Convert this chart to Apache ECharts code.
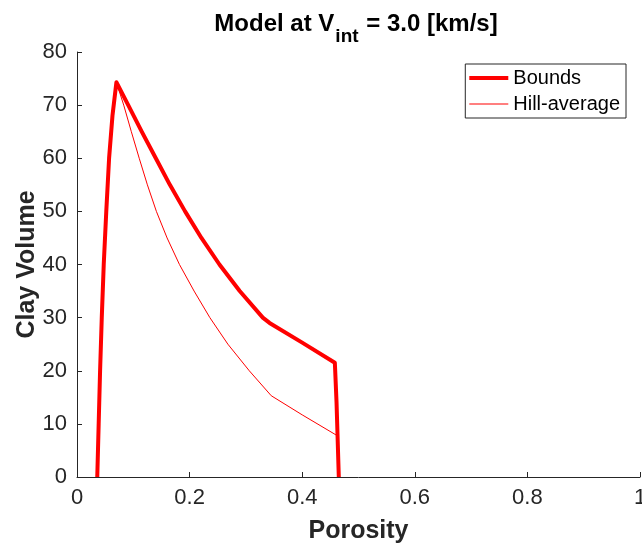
<!DOCTYPE html>
<html>
<head>
<meta charset="utf-8">
<script src="https://cdn.jsdelivr.net/npm/echarts@6/dist/echarts.min.js"></script>
<style>html,body{margin:0;padding:0;background:#fff}#c{width:642px;height:544px}</style>
</head>
<body>
<div id="c"></div>
<script>
const boundsPorosity = [0.036, 0.0385, 0.041, 0.044, 0.0475, 0.052, 0.057, 0.063, 0.070, 0.091, 0.115, 0.140, 0.165, 0.192, 0.221, 0.253, 0.289, 0.330, 0.342, 0.400, 0.458, 0.461, 0.463, 0.465];
const boundsClay     = [0.0, 10.0, 20.0, 30.0, 40.0, 50.0, 60.0, 68.0, 74.3, 70.0, 65.0, 60.0, 55.0, 50.0, 45.0, 40.0, 35.0, 30.0, 29.0, 25.3, 21.5, 14.0, 7.0, 0.0];
const hillPorosity = [0.070, 0.083, 0.0965, 0.1105, 0.125, 0.141, 0.160, 0.182, 0.208, 0.236, 0.268, 0.306, 0.345, 0.400, 0.462];
const hillClay     = [74.3, 70.0, 65.0, 60.0, 55.0, 50.0, 45.0, 40.0, 35.0, 30.0, 25.0, 20.0, 15.3, 11.7, 7.8];
const xTicks = [0, 0.2, 0.4, 0.6, 0.8, 1];
const yTicks = [0, 10, 20, 30, 40, 50, 60, 70, 80];

const toPairs = (xs, ys) => xs.map((x, i) => [x, ys[i]]);
const FONT = '"Liberation Sans", Arial, Helvetica, sans-serif';
const AX = '#262626';

const chart = echarts.init(document.getElementById('c'), null, {renderer: 'canvas'});
chart.setOption({
  animation: false,
  backgroundColor: '#ffffff',
  title: {
    text: '{a|Model at V}{s|int}{a| = 3.0 [km/s]}',
    left: 351, textAlign: 'center', top: 7,
    textStyle: {
      rich: {
        a: {fontFamily: FONT, fontSize: 24, fontWeight: 'bold', color: '#000', lineHeight: 28, verticalAlign: 'top'},
        s: {fontFamily: FONT, fontSize: 19, fontWeight: 'bold', color: '#000', lineHeight: 28, padding: [15, 1, 0, 1], verticalAlign: 'top'}
      }
    }
  },
  legend: {
    right: 16, top: 64,
    orient: 'vertical',
    backgroundColor: '#fff',
    borderColor: AX, borderWidth: 1, borderRadius: 0,
    padding: [4, 6, 4, 4],
    itemWidth: 39, itemHeight: 14, itemGap: 6,
    textStyle: {fontFamily: FONT, fontSize: 20, color: '#000', lineHeight: 20},
    data: [{name: 'Bounds', icon: 'path://M0,6 L40,6 L40,10 L0,10 Z'}, {name: 'Hill-average', icon: 'path://M0,7.5 L40,7.5 L40,8.5 L0,8.5 Z'}]
  },
  grid: {left: 77, right: 2, top: 52, bottom: 67, containLabel: false, outerBoundsMode: 'none'},
  xAxis: {
    type: 'value', min: 0, max: 1, interval: 0.2,
    name: 'Porosity', nameLocation: 'middle', nameGap: 42, nameMoveOverlap: false,
    nameTextStyle: {fontFamily: FONT, fontSize: 25, fontWeight: 'bold', color: AX},
    axisLine: {show: true, onZero: false, lineStyle: {color: AX, width: 1}},
    axisTick: {show: true, inside: true, length: 5, lineStyle: {color: AX}},
    axisLabel: {fontFamily: FONT, fontSize: 22, color: AX, margin: 10, showMaxLabel: true,
      formatter: v => String(xTicks.find(t => Math.abs(t - v) < 1e-9) ?? v)},
    splitLine: {show: false}
  },
  yAxis: {
    type: 'value', min: 0, max: 80, interval: 10,
    name: 'Clay Volume', nameLocation: 'middle', nameGap: 37, nameRotate: 90, nameMoveOverlap: false,
    nameTextStyle: {fontFamily: FONT, fontSize: 25, fontWeight: 'bold', color: AX},
    axisLine: {show: true, onZero: false, lineStyle: {color: AX, width: 1}},
    axisTick: {show: true, inside: true, length: 5, lineStyle: {color: AX}},
    axisLabel: {fontFamily: FONT, fontSize: 22, color: AX, margin: 10,
      formatter: v => String(yTicks.find(t => t === v) ?? v)},
    splitLine: {show: false}
  },
  series: [
    {
      name: 'Bounds', type: 'line', data: toPairs(boundsPorosity, boundsClay),
      showSymbol: false, symbol: 'none', smooth: false,
      lineStyle: {color: '#ff0000', width: 4, join: 'round'}, itemStyle: {color: '#ff0000'}
    },
    {
      name: 'Hill-average', type: 'line', data: toPairs(hillPorosity, hillClay),
      showSymbol: false, symbol: 'none', smooth: false,
      lineStyle: {color: '#ff0000', width: 1}, itemStyle: {color: '#ff0000'}
    }
  ]
});
</script>
</body>
</html>
